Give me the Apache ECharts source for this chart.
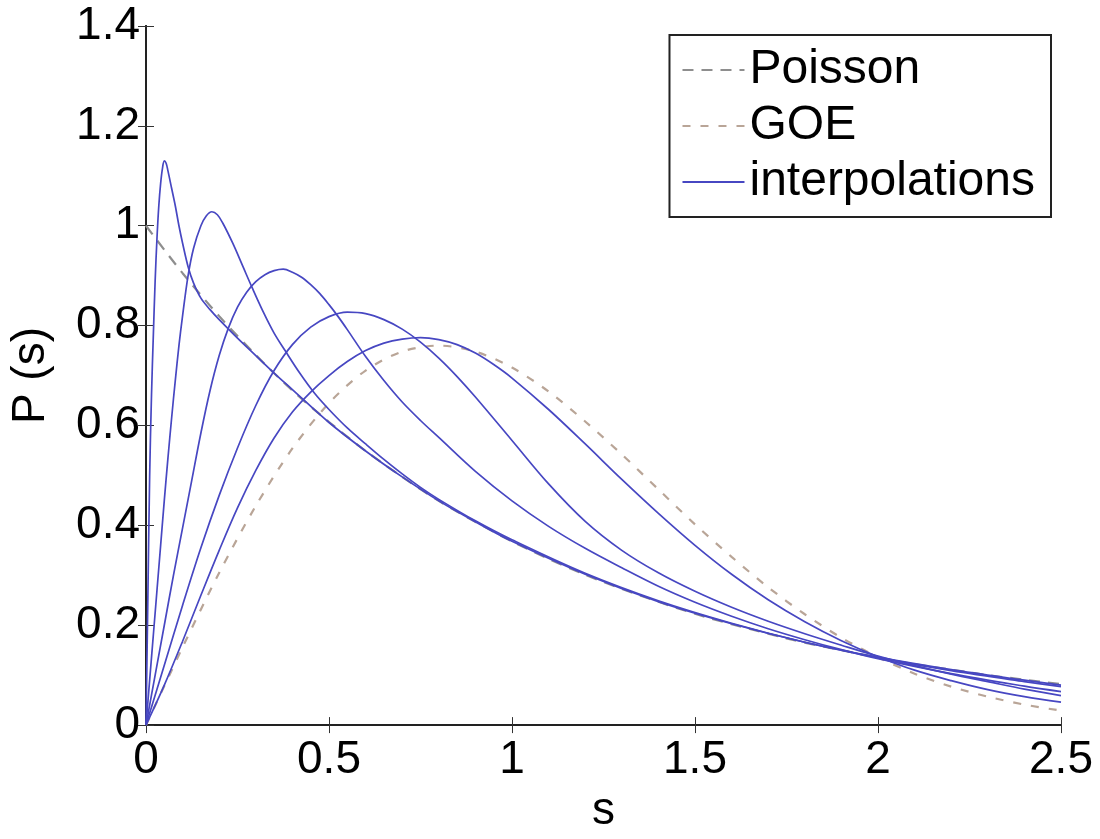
<!DOCTYPE html>
<html>
<head>
<meta charset="utf-8">
<script src="https://cdn.jsdelivr.net/npm/echarts@6/dist/echarts.min.js"></script>
<style>html,body{margin:0;padding:0;background:#fff}#c{width:1100px;height:839px}</style>
</head>
<body>
<div id="c"></div>
<script>
// reference curves sampled every 0.1 in s
const refS = [0,0.1,0.2,0.3,0.4,0.5,0.6,0.7,0.8,0.9,1.0,1.1,1.2,1.3,1.4,1.5,1.6,1.7,1.8,1.9,2.0,2.1,2.2,2.3,2.4,2.5];
const poisson = [1.000,0.905,0.819,0.741,0.670,0.607,0.549,0.497,0.449,0.407,0.368,0.333,0.301,0.273,0.247,0.223,0.202,0.183,0.165,0.150,0.135,0.122,0.111,0.100,0.091,0.082];
const goe = [0,0.156,0.305,0.439,0.554,0.645,0.710,0.748,0.760,0.748,0.716,0.668,0.608,0.542,0.472,0.402,0.337,0.276,0.222,0.175,0.136,0.103,0.077,0.057,0.041,0.029];

// interpolation curves (each with its own s samples)
const s1 = [0,0.005,0.01,0.015,0.02,0.025,0.03,0.035,0.04,0.045,0.05,0.055,0.06,0.07,0.08,0.09,0.1,0.115,0.13,0.15,0.175,0.2,0.25,0.3,0.35,0.4,0.5,0.6,0.7,0.8,0.9,1.0,1.2,1.4,1.6,1.8,2.0,2.2,2.4,2.5];
const p1 = [0,0.25,0.5,0.66,0.78,0.89,0.975,1.04,1.085,1.115,1.13,1.125,1.11,1.075,1.04,1.0,0.965,0.918,0.885,0.855,0.832,0.812,0.775,0.74,0.705,0.672,0.606,0.549,0.497,0.449,0.407,0.368,0.302,0.247,0.203,0.166,0.136,0.111,0.090,0.080];

const s2 = [0,0.01,0.02,0.03,0.04,0.05,0.06,0.07,0.08,0.09,0.1,0.115,0.13,0.15,0.165,0.18,0.195,0.21,0.237,0.265,0.29,0.32,0.35,0.38,0.42,0.46,0.5,0.55,0.6,0.65,0.7,0.75,0.8,0.9,1.0,1.2,1.4,1.6,1.8,2.0,2.2,2.4,2.5];
const p2 = [0,0.09,0.18,0.27,0.36,0.45,0.535,0.615,0.69,0.76,0.82,0.9,0.955,1.0,1.02,1.028,1.022,1.005,0.965,0.918,0.876,0.828,0.785,0.75,0.705,0.665,0.632,0.595,0.563,0.532,0.503,0.476,0.452,0.409,0.371,0.304,0.249,0.204,0.166,0.135,0.109,0.087,0.077];

const s3 = [0,0.025,0.05,0.075,0.1,0.125,0.15,0.175,0.2,0.225,0.25,0.275,0.3,0.325,0.35,0.375,0.4,0.425,0.45,0.475,0.5,0.525,0.55,0.6,0.65,0.7,0.75,0.8,0.9,1.0,1.1,1.2,1.3,1.4,1.5,1.6,1.7,1.8,1.9,2.0,2.2,2.4,2.5];
const p3 = [0,0.1,0.2,0.3,0.395,0.49,0.585,0.67,0.74,0.795,0.837,0.867,0.888,0.902,0.91,0.913,0.907,0.897,0.882,0.864,0.842,0.818,0.792,0.738,0.69,0.647,0.61,0.576,0.508,0.449,0.398,0.354,0.315,0.278,0.246,0.218,0.193,0.171,0.151,0.133,0.103,0.078,0.067];

const s4 = [0,0.05,0.1,0.15,0.2,0.25,0.3,0.35,0.4,0.45,0.5,0.55,0.6,0.65,0.7,0.75,0.8,0.85,0.9,1.0,1.1,1.2,1.3,1.4,1.5,1.6,1.7,1.8,1.9,2.0,2.1,2.2,2.3,2.4,2.5];
const p4 = [0,0.12,0.24,0.355,0.46,0.555,0.64,0.71,0.762,0.797,0.818,0.827,0.824,0.812,0.793,0.767,0.735,0.698,0.657,0.57,0.483,0.408,0.35,0.305,0.268,0.236,0.208,0.183,0.16,0.138,0.119,0.102,0.087,0.072,0.059];

const s5 = [0,0.05,0.1,0.15,0.2,0.25,0.3,0.35,0.4,0.45,0.5,0.55,0.6,0.65,0.7,0.75,0.8,0.85,0.9,0.95,1.0,1.1,1.2,1.3,1.4,1.5,1.6,1.7,1.8,1.9,2.0,2.1,2.2,2.3,2.4,2.5];
const p5 = [0,0.08,0.168,0.26,0.35,0.435,0.51,0.575,0.627,0.667,0.70,0.728,0.75,0.765,0.773,0.776,0.772,0.762,0.745,0.722,0.695,0.632,0.563,0.492,0.424,0.36,0.302,0.251,0.207,0.169,0.137,0.11,0.089,0.071,0.057,0.046];

const interpCurves = [[s1, p1], [s2, p2], [s3, p3], [s4, p4], [s5, p5]];

const xTicks = [0,0.5,1,1.5,2,2.5];
const yTicks = [0,0.2,0.4,0.6,0.8,1,1.2,1.4];

const FONT = 'Liberation Sans';
const zip = (xs, ys) => xs.map((x, i) => [x, ys[i]]);

const chart = echarts.init(document.getElementById('c'), null, {renderer: 'canvas'});
const axisLine = {show: true, lineStyle: {color: '#222', width: 2}};
const tick = {show: true, inside: true, length: 8, lineStyle: {color: '#333', width: 1}};

const POIS_COLOR = '#8e8e8e', GOE_COLOR = '#b9a597', INT_COLOR = '#4747c2';
const series = [
  {name: 'Poisson', type: 'line', data: zip(refS, poisson), showSymbol: false, symbol: 'none', smooth: 0.3,
   itemStyle: {color: POIS_COLOR},
   lineStyle: {color: POIS_COLOR, width: 2.2, type: [11, 8]}, z: 3},
  {name: 'GOE', type: 'line', data: zip(refS, goe), showSymbol: false, symbol: 'none', smooth: 0.3,
   itemStyle: {color: GOE_COLOR},
   lineStyle: {color: GOE_COLOR, width: 2.2, type: [8, 10]}, z: 3}
];
interpCurves.forEach(([xs, ys]) => series.push({
  name: 'interpolations', type: 'line', data: zip(xs, ys), showSymbol: false, symbol: 'none', smooth: 0.35,
  itemStyle: {color: INT_COLOR},
  lineStyle: {color: INT_COLOR, width: 1.7}, z: 4
}));

chart.setOption({
  animation: false,
  backgroundColor: '#fff',
  textStyle: {fontFamily: FONT},
  grid: {left: 143, right: 39, top: 26, bottom: 102, containLabel: false},
  legend: {
    right: 49, top: 35, orient: 'vertical', align: 'left',
    backgroundColor: '#fff', borderColor: '#222', borderWidth: 2,
    padding: [10, 16, 10, 12], itemGap: 6, itemWidth: 62, itemHeight: 14, itemTextGap: 8,
    itemStyle: {opacity: 0},
    data: ['Poisson', 'GOE', 'interpolations'],
    textStyle: {fontFamily: FONT, fontSize: 48, color: '#000', lineHeight: 50}
  },
  xAxis: [
    {type: 'value', min: 0, max: 2.5, interval: 0.5, position: 'bottom',
     name: 's', nameLocation: 'middle', nameGap: 62,
     nameTextStyle: {fontFamily: FONT, fontSize: 46, color: '#000'},
     axisLine, axisTick: tick, splitLine: {show: false},
     axisLabel: {margin: 12, fontFamily: FONT, fontSize: 46, color: '#000',
       formatter: v => xTicks.includes(v) ? String(v) : ''}},
    {type: 'value', min: 0, max: 2.5, interval: 0.5, position: 'top',
     axisLine, axisTick: tick, axisLabel: {show: false}, splitLine: {show: false}}
  ],
  yAxis: [
    {type: 'value', min: 0, max: 1.4, interval: 0.2, position: 'left',
     name: 'P (s)', nameLocation: 'middle', nameGap: 92,
     nameTextStyle: {fontFamily: FONT, fontSize: 46, color: '#000'},
     axisLine, axisTick: tick, splitLine: {show: false},
     axisLabel: {margin: 6, fontFamily: FONT, fontSize: 46, color: '#000',
       formatter: v => { const t = yTicks.find(y => Math.abs(y - v) < 1e-9); return t === undefined ? '' : String(t); }}},
    {type: 'value', min: 0, max: 1.4, interval: 0.2, position: 'right',
     axisLine, axisTick: tick, axisLabel: {show: false}, splitLine: {show: false}}
  ],
  series
});
</script>
</body>
</html>
